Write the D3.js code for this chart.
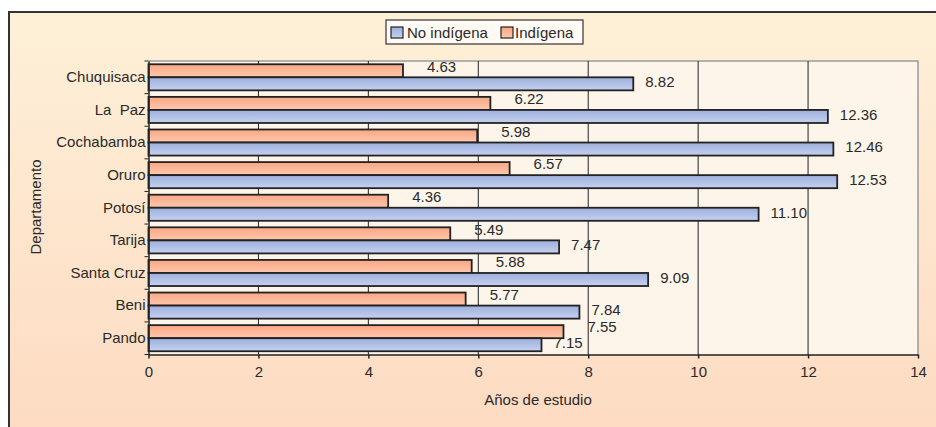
<!DOCTYPE html>
<html>
<head>
<meta charset="utf-8">
<script src="https://cdn.jsdelivr.net/npm/d3@7"></script>
<style>
  html, body { margin: 0; padding: 0; background: #fff; }
  svg { display: block; font-family: "Liberation Sans", Arial, sans-serif; }
</style>
</head>
<body>
<div id="chart"></div>
<script>
// data
const departments = ['Chuquisaca', 'La  Paz', 'Cochabamba', 'Oruro', 'Potosí', 'Tarija', 'Santa Cruz', 'Beni', 'Pando'];
const indigena = [4.63, 6.22, 5.98, 6.57, 4.36, 5.49, 5.88, 5.77, 7.55];
const noIndigena = [8.82, 12.36, 12.46, 12.53, 11.10, 7.47, 9.09, 7.84, 7.15];
const xTicks = [0, 2, 4, 6, 8, 10, 12, 14];
const seriesNames = ['No indígena', 'Indígena'];

const W = 936, H = 427;
const margin = {top: 61, right: 18, bottom: 72.5, left: 148.5};
const width = W - margin.left - margin.right;
const height = H - margin.top - margin.bottom;
const fontSize = 15;
const ink = '#2a2a2a';

const svg = d3.select('#chart').append('svg')
  .attr('width', W)
  .attr('height', H);

const defs = svg.append('defs');

function vGrad(id, stops) {
  const g = defs.append('linearGradient')
    .attr('id', id)
    .attr('x1', 0).attr('y1', 0).attr('x2', 0).attr('y2', 1);
  stops.forEach(([o, c]) => g.append('stop').attr('offset', o).attr('stop-color', c));
}
vGrad('bg', [[0, '#fef0d8'], [1, '#fddbc2']]);
vGrad('gOrange', [[0, '#f9a684'], [1, '#fec8ae']]);
vGrad('gBlue', [[0, '#9cafdc'], [1, '#c6d1f0']]);

// outer frame (runs off the right and bottom edges)
svg.append('rect')
  .attr('x', 9).attr('y', 12)
  .attr('width', W).attr('height', H)
  .attr('fill', 'url(#bg)')
  .attr('stroke', '#333')
  .attr('stroke-width', 2);

const g = svg.append('g')
  .attr('transform', `translate(${margin.left},${margin.top})`);

const x = d3.scaleLinear().domain([0, 14]).range([0, width]);
const y = d3.scaleBand().domain(departments).range([0, height]).paddingInner(0).paddingOuter(0);
const sub = d3.scaleBand().domain(['ind', 'noind']).range([0, y.bandwidth()]).paddingInner(0).paddingOuter(0.25);

// plot area
g.append('rect')
  .attr('width', width).attr('height', height)
  .attr('fill', '#fef5ea');
g.append('path')
  .attr('d', `M0,0H${width}V${height}`)
  .attr('fill', 'none')
  .attr('stroke', '#9a9a9a')
  .attr('stroke-width', 1.5);

// vertical gridlines
g.selectAll('.grid')
  .data(xTicks.slice(1, -1))
  .enter().append('line')
  .attr('class', 'grid')
  .attr('x1', d => x(d)).attr('x2', d => x(d))
  .attr('y1', 0).attr('y2', height)
  .attr('stroke', '#222')
  .attr('stroke-width', 1);

// bars
const rows = departments.map((d, i) => ({dep: d, ind: indigena[i], noind: noIndigena[i]}));

const groups = g.selectAll('.row')
  .data(rows)
  .enter().append('g')
  .attr('class', 'row')
  .attr('transform', d => `translate(0,${y(d.dep)})`);

groups.append('rect')
  .attr('x', 0)
  .attr('y', sub('ind'))
  .attr('width', d => x(d.ind))
  .attr('height', sub.bandwidth())
  .attr('fill', 'url(#gOrange)')
  .attr('stroke', '#222')
  .attr('stroke-width', 1.8);

groups.append('rect')
  .attr('x', 0)
  .attr('y', sub('noind'))
  .attr('width', d => x(d.noind))
  .attr('height', sub.bandwidth())
  .attr('fill', 'url(#gBlue)')
  .attr('stroke', '#222')
  .attr('stroke-width', 1.8);

// value labels
const fmt = d3.format('.2f');
groups.append('text')
  .attr('x', d => x(d.ind) + 24)
  .attr('y', sub('ind') + sub.bandwidth() / 2 - 4.5)
  .attr('dy', '0.35em')
  .attr('font-size', fontSize)
  .attr('fill', ink)
  .text(d => fmt(d.ind));

groups.append('text')
  .attr('x', d => x(d.noind) + 12)
  .attr('y', sub('noind') + sub.bandwidth() / 2 - 2)
  .attr('dy', '0.35em')
  .attr('font-size', fontSize)
  .attr('fill', ink)
  .text(d => fmt(d.noind));

// axes
const xAxis = g.append('g')
  .attr('class', 'x axis')
  .attr('transform', `translate(0,${height})`)
  .call(d3.axisBottom(x).tickValues(xTicks).tickSize(4).tickPadding(8).tickSizeOuter(0));

const yAxis = g.append('g')
  .attr('class', 'y axis')
  .call(d3.axisLeft(y).tickSize(0).tickPadding(3));

// category separator ticks on the y axis
g.selectAll('.ysep')
  .data(d3.range(departments.length + 1))
  .enter().append('line')
  .attr('class', 'ysep')
  .attr('x1', -4).attr('x2', 0)
  .attr('y1', i => i * y.step()).attr('y2', i => i * y.step())
  .attr('stroke', '#222');

g.selectAll('.axis path, .axis line')
  .attr('stroke', '#222')
  .attr('stroke-width', 1.5);
g.selectAll('.axis text')
  .attr('font-size', fontSize)
  .attr('fill', ink)
  .attr('font-family', '"Liberation Sans", Arial, sans-serif');
yAxis.selectAll('text').style('white-space', 'pre');

// axis titles
svg.append('text')
  .attr('x', 538).attr('y', 400)
  .attr('dy', '0.35em')
  .attr('text-anchor', 'middle')
  .attr('font-size', fontSize)
  .attr('fill', ink)
  .text('Años de estudio');

svg.append('text')
  .attr('transform', 'translate(36,207) rotate(-90)')
  .attr('dy', '0.35em')
  .attr('text-anchor', 'middle')
  .attr('font-size', fontSize)
  .attr('fill', ink)
  .text('Departamento');

// legend
const legend = svg.append('g').attr('transform', 'translate(386,20)');
legend.append('rect')
  .attr('width', 197).attr('height', 24)
  .attr('fill', '#fffaf4')
  .attr('stroke', '#333')
  .attr('stroke-width', 1.2);

const legendItems = [
  {name: seriesNames[0], fill: 'url(#gBlue)', x: 5, tx: 21},
  {name: seriesNames[1], fill: 'url(#gOrange)', x: 115, tx: 129}
];
legendItems.forEach(item => {
  legend.append('rect')
    .attr('x', item.x).attr('y', 7)
    .attr('width', 12).attr('height', 11)
    .attr('fill', item.fill)
    .attr('stroke', '#222')
    .attr('stroke-width', 1.2);
  legend.append('text')
    .attr('x', item.tx).attr('y', 12.5)
    .attr('dy', '0.35em')
    .attr('font-size', fontSize)
    .attr('fill', ink)
    .text(item.name);
});
</script>
</body>
</html>
